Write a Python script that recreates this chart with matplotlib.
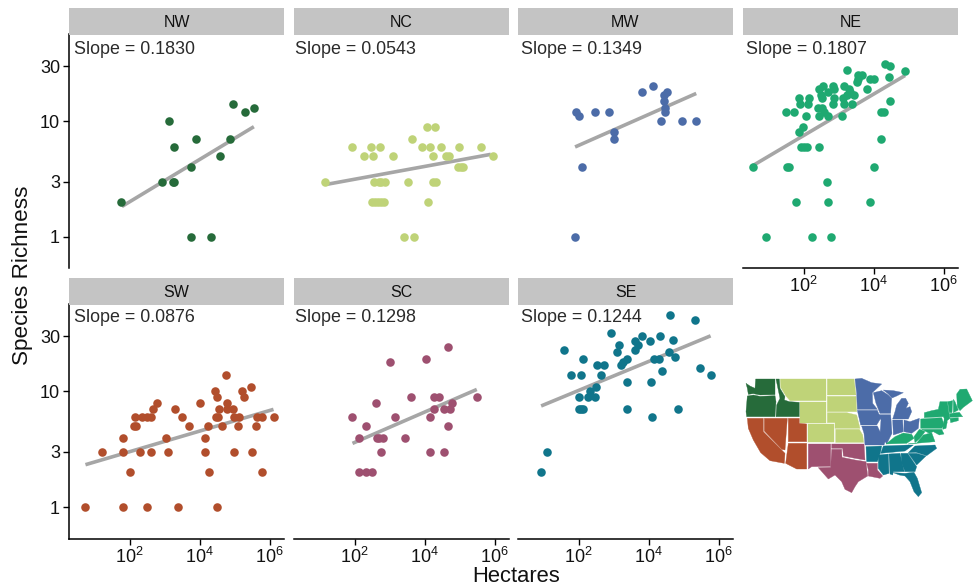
import numpy as np
import matplotlib
matplotlib.use("Agg")
import matplotlib.pyplot as plt
from matplotlib.patches import Polygon

plt.rcParams['font.family'] = ['Liberation Sans', 'DejaVu Sans']
plt.rcParams['mathtext.fontset'] = 'custom'
plt.rcParams['mathtext.rm'] = 'Liberation Sans'
plt.rcParams['mathtext.it'] = 'Liberation Sans'
plt.rcParams['mathtext.default'] = 'regular'

regions = ['NW', 'NC', 'MW', 'NE', 'SW', 'SC', 'SE']
slopes = ['0.1830', '0.0543', '0.1349', '0.1807', '0.0876', '0.1298', '0.1244']
colors = ['#266B3A', '#BFD378', '#4C6CA8', '#1FA971', '#B14E2C', '#9E5070', '#10758B']

# log10(hectares) and species richness per region
nw_x = [1.75, 2.93, 3.25, 3.27, 3.14, 3.26, 3.89, 3.74, 3.75, 4.32, 4.59, 4.86, 4.96, 5.30, 5.56]
nw_y = [2, 3, 3, 3, 10, 6, 7, 4, 1, 1, 5, 7, 14, 12, 13]
nc_x = [3.42, 3.71, 2.50, 2.58, 2.67, 2.75, 2.84, 4.10, 1.16, 2.55, 2.70, 2.76, 2.87, 3.52, 4.25, 4.33,
        4.94, 5.03, 5.10, 2.27, 2.53, 3.10, 4.24, 4.62, 4.70, 5.94, 1.94, 2.48, 2.74, 3.92, 4.14, 4.46,
        4.99, 5.61, 3.65, 4.07, 4.30]
nc_y = [1, 1, 2, 2, 2, 2, 2, 2, 3, 3, 3, 3, 3, 3, 3, 3,
        4, 4, 4, 5, 5, 5, 5, 5, 5, 5, 6, 6, 6, 6, 6, 6,
        6, 6, 7, 9, 9]
mw_x = [1.90, 2.10, 3.00, 3.02, 1.92, 2.01, 2.48, 2.87, 3.80, 4.13, 4.52, 4.44, 4.45, 4.48, 4.47, 4.34, 4.95, 5.36]
mw_y = [1, 4, 7, 8, 12, 11, 12, 12, 18, 20, 18, 17, 15, 13, 12, 10, 10, 10]
ne_x = [0.93, 2.23, 2.78, 1.78, 2.71, 3.90, 2.68, 0.55, 1.52, 1.57, 4.02, 1.93, 2.02, 2.10, 2.45, 4.21,
        1.87, 1.99, 2.07, 2.45, 2.69, 3.11, 1.49, 1.72, 4.20, 4.30, 2.40, 2.52, 2.59, 1.89, 2.12, 2.84,
        3.16, 3.38, 4.48, 1.87, 2.15, 2.52, 2.86, 3.14, 3.24, 2.43, 2.50, 2.71, 2.86, 3.80, 3.43, 3.33,
        2.56, 2.83, 3.16, 3.29, 3.52, 3.54, 4.43, 3.90, 4.00, 3.24, 3.54, 3.67, 4.32, 4.47, 4.90]
ne_y = [1, 1, 1, 2, 2, 2, 3, 4, 4, 4, 4, 6, 6, 6, 6, 7,
        8, 9, 11, 11, 11, 11, 12, 12, 12, 12, 13, 13, 12, 14, 14, 14,
        14, 14, 15, 16, 16, 16, 16, 16, 17, 19, 17, 18, 19, 19, 17, 18,
        20, 20, 20, 19, 22, 23, 24, 23, 23, 28, 25, 25, 31, 30, 27]
sw_x = [0.74, 1.82, 2.51, 3.39, 4.49, 2.01, 4.27, 5.78, 1.22, 1.82, 2.29, 2.62, 3.11, 4.15, 4.99, 5.50,
        1.82, 3.05, 4.14, 2.13, 2.17, 3.69, 4.23, 4.63, 5.11, 5.61, 2.15, 2.35, 2.50, 2.62, 3.49, 4.46,
        4.53, 4.97, 5.13, 5.65, 5.78, 6.12, 2.66, 3.30, 4.56, 4.77, 4.94, 2.78, 4.02, 4.78, 4.51, 5.26,
        4.45, 5.20, 5.48, 4.74]
sw_y = [1, 1, 1, 1, 1, 2, 2, 2, 3, 3, 3, 3, 3, 3, 3, 3,
        4, 4, 4, 5, 5, 5, 5, 5, 5, 5, 6, 6, 6, 6, 6, 6,
        6, 6, 6, 6, 6, 6, 7, 7, 7, 7, 7, 8, 8, 8, 9, 9,
        10, 10, 11, 14]
sc_x = [2.12, 2.34, 2.49, 2.75, 4.14, 4.56, 2.12, 2.63, 2.70, 2.82, 3.45, 2.34, 4.67, 1.93, 3.15, 4.14,
        4.28, 4.54, 4.73, 2.62, 4.78, 3.61, 4.26, 4.42, 5.50, 3.02, 4.03, 4.67]
sc_y = [2, 2, 2, 3, 3, 3, 4, 4, 4, 4, 4, 5, 5, 6, 6, 6,
        7, 7, 7, 8, 8, 9, 9, 9, 9, 18, 19, 24]
se_x = [0.92, 1.09, 4.10, 2.00, 2.07, 2.13, 3.37, 4.85, 2.00, 2.26, 2.48, 2.34, 2.50, 3.37, 4.07,
        1.77, 2.06, 2.64, 5.79, 4.37, 5.47, 2.54, 2.74, 3.22, 3.26, 2.12, 3.37, 4.16, 4.29, 4.75,
        3.09, 4.59, 1.57, 3.60, 3.15, 3.71, 3.60, 4.05, 4.70, 3.80, 4.33, 2.93, 5.33, 4.61]
se_y = [2, 3, 6, 7, 7, 7, 7, 7, 9, 9, 9, 10, 11, 12, 12,
        14, 14, 14, 14, 15, 16, 17, 17, 17, 18, 19, 19, 19, 19, 20,
        22, 22, 23, 23, 25, 25, 27, 27, 28, 30, 30, 32, 41, 46]

xs = [nw_x, nc_x, mw_x, ne_x, sw_x, sc_x, se_x]
ys = [nw_y, nc_y, mw_y, ne_y, sw_y, sc_y, se_y]

# fitted-line end points, log10(hectares) and richness
fit_x = [(1.78, 5.55), (1.22, 5.89), (1.90, 5.36), (0.55, 4.90), (0.74, 6.11), (1.94, 5.49), (0.93, 5.77)]
fit_y = [(1.83, 8.97), (2.85, 5.17), (5.99, 17.4), (4.13, 24.9), (2.33, 7.0), (3.56, 10.4), (7.49, 30.2)]

x_ticks = [1e2, 1e4, 1e6]
x_labels = ['$10^{2}$', '$10^{4}$', '$10^{6}$']
y_ticks = [1, 3, 10, 30]
y_labels = ['1', '3', '10', '30']

# state outlines of the inset map (sketched from the picture), grouped by region
map_states = {
    'NW': [
        [(18, 40), (30, 48), (45, 55), (47, 27), (105, 27), (105, 74), (60, 75), (40, 71), (25, 73), (22, 55)],
        [(22, 78), (40, 75), (60, 79), (105, 77), (108, 95), (105, 140), (20, 140), (18, 125)],
        [(108, 27), (118, 27), (120, 55), (135, 80), (133, 90), (148, 95), (178, 97), (178, 140), (108, 140), (110, 105), (120, 85)],
    ],
    'NC': [
        [(121, 27), (258, 27), (258, 92), (178, 92), (150, 92), (138, 78), (122, 52)],
        [(262, 27), (342, 27), (348, 75), (262, 75)],
        [(262, 79), (348, 79), (350, 125), (262, 125)],
        [(181, 96), (258, 96), (258, 158), (181, 158)],
        [(262, 128), (320, 128), (350, 135), (360, 175), (285, 175), (285, 158), (262, 158)],
        [(203, 162), (282, 162), (282, 217), (203, 217)],
        [(287, 178), (358, 178), (368, 195), (371, 217), (287, 217)],
    ],
    'MW': [
        [(345, 27), (365, 25), (395, 38), (425, 42), (397, 68), (398, 100), (412, 118), (352, 118), (350, 70)],
        [(352, 121), (412, 121), (422, 145), (410, 165), (362, 165)],
        [(365, 168), (412, 168), (425, 195), (437, 210), (432, 225), (375, 225), (372, 190)],
        [(400, 68), (425, 62), (445, 75), (455, 85), (452, 130), (420, 130), (408, 100)],
        [(415, 134), (452, 134), (456, 190), (440, 222), (420, 190), (423, 150)],
        [(458, 147), (465, 125), (470, 105), (485, 85), (497, 85), (505, 100), (498, 115), (510, 110), (515, 125), (505, 147)],
        [(430, 60), (460, 62), (490, 68), (470, 78), (456, 84), (445, 72)],
        [(458, 150), (488, 150), (490, 185), (460, 195)],
        [(492, 150), (510, 155), (538, 145), (535, 175), (515, 190), (492, 185)],
    ],
    'NE': [
        [(438, 222), (465, 200), (490, 189), (515, 193), (522, 205), (500, 220)],
        [(522, 200), (538, 178), (545, 180), (555, 185), (540, 205), (525, 218)],
        [(505, 222), (530, 219), (550, 195), (575, 188), (585, 215)],
        [(542, 147), (605, 143), (613, 165), (605, 175), (542, 175)],
        [(545, 178), (605, 178), (612, 192), (598, 195), (580, 185), (568, 190)],
        [(613, 145), (622, 155), (618, 175), (608, 178)],
        [(553, 128), (575, 122), (595, 118), (600, 95), (622, 95), (627, 130), (630, 145), (618, 155), (610, 140), (553, 143)],
        [(623, 95), (638, 92), (636, 128), (628, 128)],
        [(640, 88), (645, 95), (655, 120), (640, 128)],
        [(650, 72), (660, 58), (680, 57), (697, 92), (670, 112), (660, 122), (652, 110)],
        [(628, 131), (658, 127), (668, 140), (630, 142)],
        [(630, 145), (655, 143), (655, 152), (632, 158)],
    ],
    'SW': [
        [(22, 145), (70, 145), (70, 185), (135, 250), (133, 280), (90, 272), (62, 248), (40, 210), (25, 175)],
        [(73, 145), (142, 145), (135, 240), (125, 238), (73, 183)],
        [(145, 145), (178, 145), (178, 160), (200, 162), (200, 215), (145, 215)],
        [(145, 220), (200, 220), (200, 297), (170, 297), (137, 280)],
    ],
    'SC': [
        [(380, 280), (412, 280), (412, 300), (428, 318), (420, 325), (385, 318), (385, 300)],
        [(275, 222), (372, 222), (375, 270), (345, 265), (310, 258), (308, 235), (275, 235)],
        [(275, 238), (305, 238), (306, 262), (345, 270), (378, 275), (383, 318), (355, 335), (345, 350), (335, 368), (315, 358), (305, 335), (285, 315), (265, 327), (250, 310), (235, 293), (272, 292)],
        [(205, 222), (272, 222), (272, 289), (215, 290), (205, 297)],
    ],
    'SE': [
        [(378, 230), (425, 228), (422, 245), (412, 275), (380, 275)],
        [(430, 228), (505, 225), (520, 225), (495, 243), (422, 250)],
        [(505, 248), (525, 228), (585, 225), (590, 235), (560, 257), (528, 247)],
        [(505, 250), (530, 250), (558, 258), (530, 285)],
        [(483, 250), (503, 250), (530, 290), (525, 305), (495, 305), (485, 280)],
        [(447, 252), (480, 250), (493, 305), (460, 305), (458, 315), (450, 312)],
        [(415, 255), (445, 252), (447, 310), (430, 315), (415, 295)],
        [(460, 308), (495, 310), (522, 307), (532, 325), (545, 368), (535, 380), (522, 365), (510, 335), (495, 318), (478, 315)],
    ],
}

W, H = 977, 586
fig = plt.figure(figsize=(W / 100, H / 100), dpi=100)
fig.patch.set_facecolor('white')


def box(left, top, right, bottom):
    return [left / W, 1 - bottom / H, (right - left) / W, (bottom - top) / H]


col_left = [69, 294, 518, 743]
col_right = [284, 509, 733, 958]
row_top = [34, 304]
row_bottom = [268, 538.5]
strip_top = [8, 278]
strip_bottom = [35, 305]
text_left = [74, 295, 520.7, 745.7]
text_y = [50, 318]
places = [(0, 0), (0, 1), (0, 2), (0, 3), (1, 0), (1, 1), (1, 2)]

for i, (r, c) in enumerate(places):
    ax = fig.add_axes(box(col_left[c], row_top[r], col_right[c], row_bottom[r]))
    ax.set_xscale('log')
    ax.set_yscale('log')
    ax.set_xlim(10 ** 0.27, 10 ** 6.41)
    ax.set_ylim(10 ** -0.27, 10 ** 1.755)
    ax.patch.set_alpha(0)
    ax.plot(10 ** np.array(fit_x[i]), fit_y[i], color='#A6A6A6', lw=2.6, solid_capstyle='butt', zorder=2)
    ax.scatter(10 ** np.array(xs[i]), ys[i], s=38, color=colors[i], linewidths=0, zorder=3, clip_on=False)
    for s in ['top', 'right']:
        ax.spines[s].set_visible(False)
    ax.spines['left'].set_visible(c == 0)
    ax.spines['bottom'].set_visible(r == 1 or c == 3)
    for s in ['left', 'bottom']:
        ax.spines[s].set_linewidth(1.1)
    ax.minorticks_off()
    ax.set_xticks(x_ticks if (r == 1 or c == 3) else [])
    ax.set_xticklabels(x_labels if (r == 1 or c == 3) else [])
    ax.set_yticks(y_ticks if c == 0 else [])
    ax.set_yticklabels(y_labels if c == 0 else [])
    ax.tick_params(axis='both', which='both', length=4, width=1.0, labelsize=13, pad=2.5, labelcolor='#111111')
    ax.tick_params(axis='x', pad=2)

    sa = fig.add_axes(box(col_left[c], strip_top[r], col_right[c], strip_bottom[r]))
    sa.set_facecolor('#C4C4C4')
    sa.set_xticks([])
    sa.set_yticks([])
    for s in sa.spines.values():
        s.set_visible(False)
    sa.text(0.5, 0.47, regions[i], ha='center', va='center', fontsize=11.5, color='#111111', transform=sa.transAxes)

    fig.text(text_left[c] / W, 1 - text_y[r] / H, 'Slope = ' + slopes[i], ha='left', va='center',
             fontsize=12.9, color='#2B2B2B')

fig.text(516 / W, 1 - 581.5 / H, 'Hectares', ha='center', va='baseline', fontsize=15.8, color='#111111')
fig.text(23 / W, 1 - 275 / H, 'Species Richness', ha='center', va='center', rotation=90, fontsize=16.2, color='#111111')

ma = fig.add_axes(box(740, 370, 977, 510))
ma.set_xlim(0, 711)
ma.set_ylim(420, 0)
ma.axis('off')
for i, name in enumerate(regions):
    for pts in map_states[name]:
        ma.add_patch(Polygon(pts, closed=True, facecolor=colors[i], edgecolor=colors[i], lw=0.25, joinstyle='round'))

fig.savefig('out.png', dpi=100)
